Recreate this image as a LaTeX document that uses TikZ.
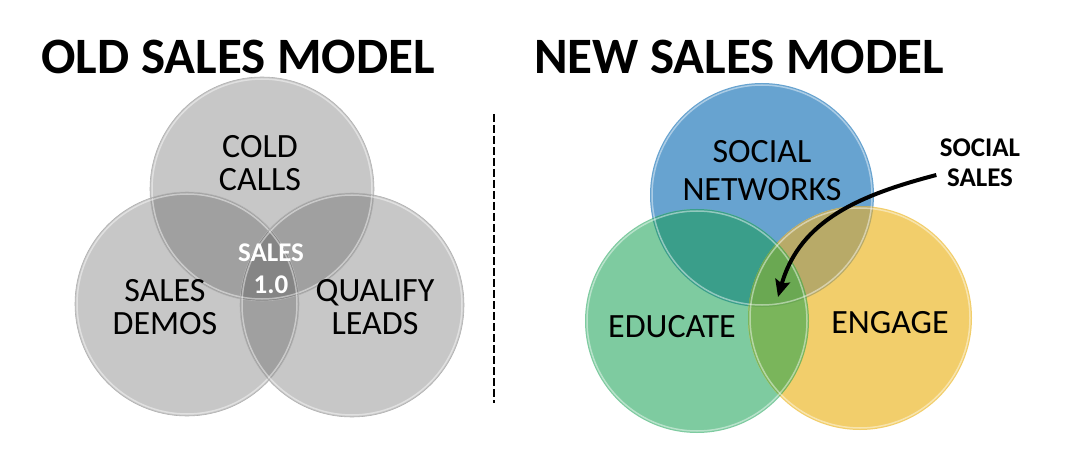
\documentclass[tikz,border=0pt]{standalone}
\usepackage{fontspec}
\setmainfont{Carlito}
\usetikzlibrary{arrows.meta}

\definecolor{socblue}{HTML}{67A3D0}
\definecolor{edugreen}{HTML}{7ECBA0}
\definecolor{enggold}{HTML}{F2CE6B}
\definecolor{bgmix}{HTML}{3A9E8A}
\definecolor{bymix}{HTML}{B8AA68}
\definecolor{gymix}{HTML}{7AB55B}
\definecolor{allmix}{HTML}{6AA852}

\newcommand{\vennr}{112pt}

\begin{document}
\begin{tikzpicture}[x=1pt,y=-1pt,
  heading/.style={font=\bfseries\fontsize{51}{51}\selectfont},
  settext/.style={align=center,font=\fontsize{34}{33}\selectfont},
  smalltext/.style={align=center,font=\bfseries\fontsize{27}{30}\selectfont},
  rim/.style={white,opacity=.45,line width=1.5pt},
  edge/.style={black!30,line width=.6pt}]

\fill[white] (0,0) rectangle (1072,468);
\useasboundingbox (0,0) rectangle (1072,468);

% old model
\coordinate (cold) at (262,189);
\coordinate (demos) at (187,304);
\coordinate (qual) at (352,305);

\foreach \c in {cold,demos,qual}
  \fill[black!70,fill opacity=.31] (\c) circle (\vennr);
\foreach \c in {cold,demos,qual}{
  \draw[edge] (\c) circle (\vennr);
  \draw[rim] (\c) circle (110pt);
}

\node[heading] (oldt) at (238,57) {OLD SALES MODEL};
\node[settext] (coldt) at (260,163) {COLD\\CALLS};
\node[settext] (demost) at (165,307) {SALES\\DEMOS};
\node[settext] (qualt) at (375,307) {QUALIFY\\LEADS};
\node[smalltext,white,font=\bfseries\fontsize{27}{32}\selectfont] (core) at (271,269) {SALES\\1.0};

% divider
\coordinate (divtop) at (494,114);
\coordinate (divbot) at (494,403);
\draw[dash pattern=on 8pt off 3pt,line width=2.2pt] (divtop) -- (divbot);

% new model
\coordinate (social) at (762,195);
\coordinate (educ) at (697,321);
\coordinate (engage) at (860,318);

\fill[socblue] (social) circle (\vennr);
\fill[edugreen] (educ) circle (\vennr);
\fill[enggold] (engage) circle (\vennr);
\begin{scope}
  \clip (social) circle (\vennr);
  \fill[bgmix] (educ) circle (\vennr);
  \fill[bymix] (engage) circle (\vennr);
\end{scope}
\begin{scope}
  \clip (educ) circle (\vennr);
  \fill[gymix] (engage) circle (\vennr);
  \clip (social) circle (\vennr);
  \fill[allmix] (engage) circle (\vennr);
\end{scope}
\foreach \c in {social,educ,engage}
  \draw[rim] (\c) circle (110pt);

\node[heading] (newt) at (739,57) {NEW SALES MODEL};
\node[settext,font=\fontsize{34}{38}\selectfont] (socialt) at (762,171) {SOCIAL\\NETWORKS};
\node[settext] (educt) at (672,327) {EDUCATE};
\node[settext] (engaget) at (890,323) {ENGAGE};
\node[smalltext] (ssales) at (980,163) {SOCIAL\\SALES};

\coordinate (tip) at (778,297);
\draw[-{Stealth[length=17pt,width=15pt,inset=3pt]},line width=4pt]
  ([yshift=-12pt]ssales.west) .. controls (860,195) and (800,220) .. (tip);

\end{tikzpicture}
\end{document}
